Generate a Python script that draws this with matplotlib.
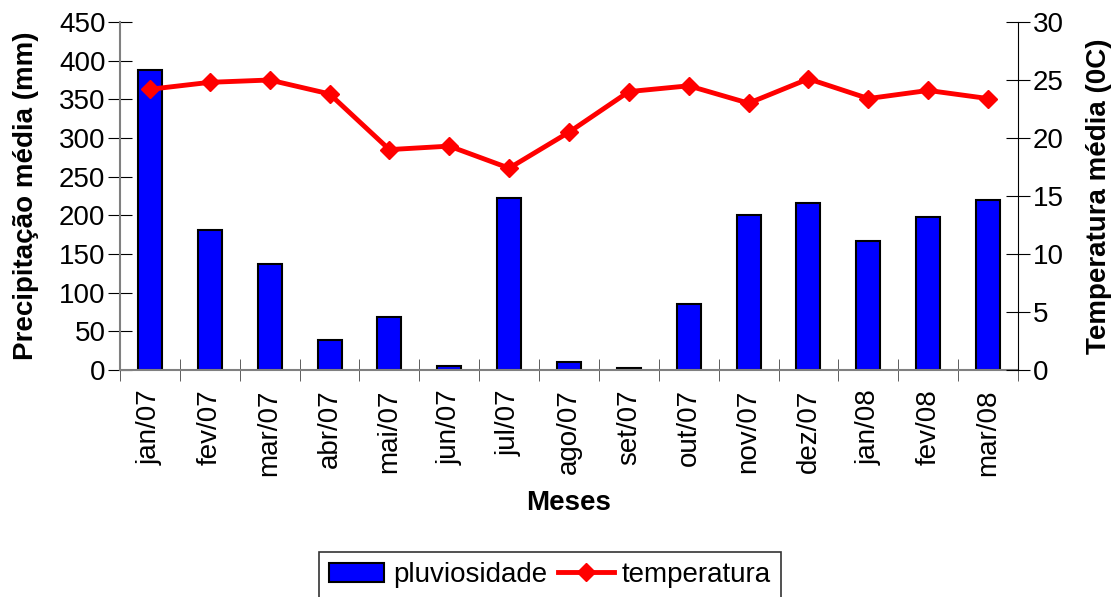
import matplotlib
matplotlib.use("Agg")
import matplotlib.pyplot as plt
from matplotlib.lines import Line2D
from matplotlib.patches import Patch
import numpy as np

plt.rcParams['font.family'] = ['Liberation Sans', 'DejaVu Sans']

meses = ["jan/07", "fev/07", "mar/07", "abr/07", "mai/07", "jun/07", "jul/07", "ago/07",
         "set/07", "out/07", "nov/07", "dez/07", "jan/08", "fev/08", "mar/08"]
pluviosidade = [388, 181, 137, 39, 69, 5, 222, 10, 3, 85, 200, 216, 167, 198, 220]
temperatura = [24.2, 24.8, 25.0, 23.8, 19.0, 19.3, 17.4, 20.5, 24.0, 24.5, 23.0, 25.1, 23.4, 24.1, 23.4]

fig = plt.figure(figsize=(11.15, 5.97), dpi=100)
ax = fig.add_axes([120/1115, 1 - 370/597, 898/1115, 348/597])
x = np.arange(len(meses))
ax.bar(x, pluviosidade, width=0.4, color='#0000FF', edgecolor='black', linewidth=1.5, zorder=2)
ax.set_xlim(-0.5, len(meses) - 0.5)
ax.set_ylim(0, 450)
ax.set_yticks(np.arange(0, 451, 50))
ax.set_xticks(x)
ax.set_xticklabels(meses, rotation=90, fontsize=20)
ax.set_xticks(np.arange(-0.5, len(meses), 1), minor=True)
ax.tick_params(axis='x', which='major', length=0, pad=14)
ax.tick_params(axis='x', which='minor', length=16, direction='inout', color='#444444')
ax.tick_params(axis='y', labelsize=20, length=17, direction='inout', color='black', pad=2)
for s in ['top', 'right']:
    ax.spines[s].set_visible(False)
ax.spines['left'].set_color('#808080')
ax.spines['bottom'].set_color('#808080')
ax.spines['left'].set_linewidth(1.5)
ax.spines['bottom'].set_linewidth(1.5)
ax.set_ylabel('Precipitação média (mm)', fontsize=20, fontweight='bold', labelpad=14)
ax.set_xlabel('Meses', fontsize=20, fontweight='bold', labelpad=10)

ax2 = ax.twinx()
ax2.plot(x, temperatura, color='#FF0000', linewidth=3.5, marker='D', markersize=9, zorder=3)
ax2.set_ylim(0, 30)
ax2.set_yticks(np.arange(0, 31, 5))
ax2.tick_params(axis='y', labelsize=20, length=17, direction='inout', color='black', pad=2)
for s in ['top', 'left', 'bottom']:
    ax2.spines[s].set_visible(False)
ax2.spines['right'].set_color('black')
ax2.set_ylabel('Temperatura média (0C)', fontsize=20, fontweight='bold', labelpad=16)

handles = [Patch(facecolor='#0000FF', edgecolor='black', linewidth=1.5, label='pluviosidade'),
           Line2D([0], [0], color='#FF0000', linewidth=3.5, marker='D', markersize=9, label='temperatura')]
leg = fig.legend(handles=handles, loc='lower center', bbox_to_anchor=(550/1115, -12/597), ncol=2,
                 fontsize=20, frameon=True, fancybox=False, edgecolor='black', handlelength=2.0,
                 columnspacing=0.4, handletextpad=0.3, borderpad=0.35, borderaxespad=0.4)
leg.get_frame().set_linewidth(1.2)

fig.savefig('out.png', dpi=100)
